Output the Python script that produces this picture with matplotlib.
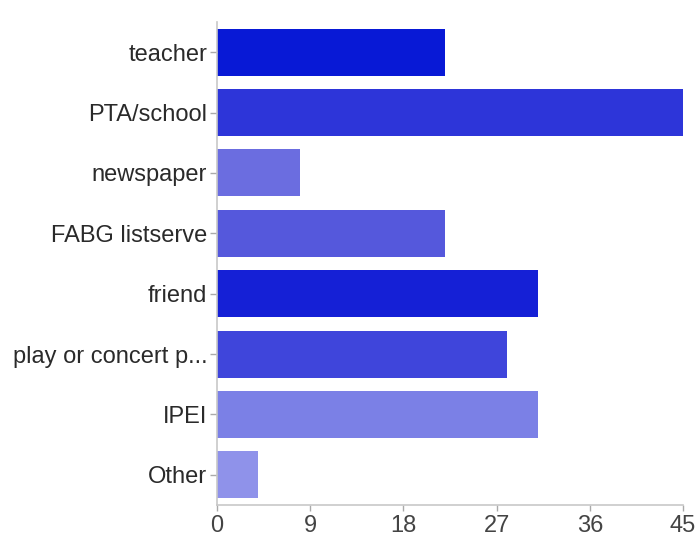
import matplotlib
matplotlib.use("Agg")
import matplotlib.pyplot as plt

categories = ["teacher", "PTA/school", "newspaper", "FABG listserve", "friend",
              "play or concert p...", "IPEI", "Other"]
values = [22, 45, 8, 22, 31, 28, 31, 4]
colors = ["#0819d6", "#2d35d9", "#6b6de0", "#5558dc", "#1520d6", "#3f45db", "#7b80e6", "#8f92ea"]
xticks = [0, 9, 18, 27, 36, 45]

plt.rcParams['font.family'] = ['Liberation Sans', 'DejaVu Sans']

fig = plt.figure(figsize=(6.97, 5.38), dpi=100)
ax = fig.add_axes([217/697, 1 - 505/538, (683-217)/697, (505-22)/538])

ypos = list(range(len(categories)))
ax.barh(ypos, values, height=0.78, color=colors)
ax.set_ylim(len(categories) - 0.5, -0.5)
ax.set_xlim(0, 45)
ax.set_yticks(ypos)
ax.set_yticklabels(categories)
ax.set_xticks(xticks)
ax.set_xticklabels([str(t) for t in xticks])

for s in ["top", "right"]:
    ax.spines[s].set_visible(False)
for s in ["left", "bottom"]:
    ax.spines[s].set_color("#c8c8c8")
    ax.spines[s].set_linewidth(1.2)

ax.tick_params(axis="y", length=5, width=1, color="#aaaaaa", pad=2,
               labelsize=17, labelcolor="#2a2a2a")
ax.tick_params(axis="x", length=4, width=1, color="#aaaaaa", pad=3,
               labelsize=17, labelcolor="#444444")

fig.savefig("out.png", dpi=100)
